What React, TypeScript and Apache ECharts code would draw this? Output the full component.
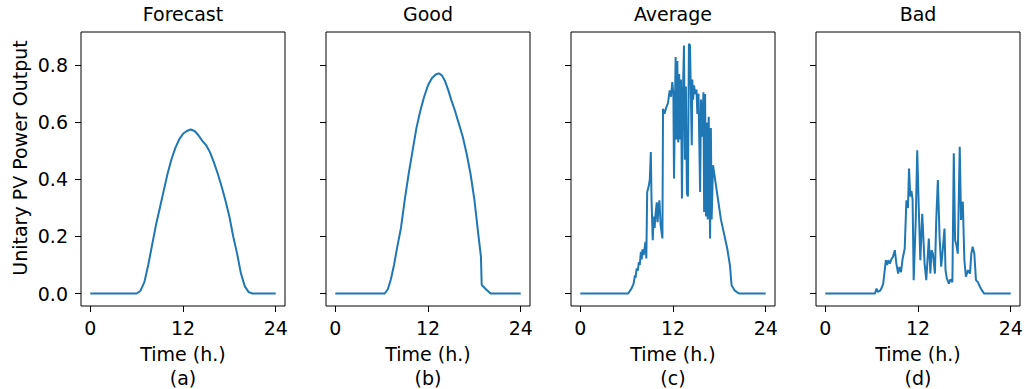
import React, { useEffect, useRef } from "react";
import * as echarts from "echarts";

const panelTitles = ["Forecast", "Good", "Average", "Bad"];
const panelLetters = ["(a)", "(b)", "(c)", "(d)"];
const xTicks = [0, 12, 24];
const yTicks = [0, 0.2, 0.4, 0.6, 0.8];
const yAxisTitle = "Unitary PV Power Output";
const xAxisTitle = "Time (h.)";

// [hour, unitary power]
const forecast: [number, number][] = [
  [0, 0], [6.0, 0], [6.5, 0.01], [7.0, 0.04], [7.5, 0.1], [8.0, 0.17], [8.5, 0.24],
  [9.0, 0.3], [9.5, 0.36], [10.0, 0.42], [10.5, 0.47], [11.0, 0.51], [11.5, 0.54],
  [12.0, 0.56], [12.5, 0.57], [13.0, 0.575], [13.5, 0.57], [14.0, 0.555], [14.5, 0.535],
  [15.0, 0.52], [15.5, 0.495], [16.0, 0.46], [16.5, 0.42], [17.0, 0.375], [17.5, 0.325],
  [18.0, 0.27], [18.5, 0.2], [19.0, 0.14], [19.5, 0.07], [20.0, 0.025], [20.5, 0.005],
  [21.0, 0], [24, 0],
];

const good: [number, number][] = [
  [0, 0], [6.4, 0], [6.8, 0.015], [7.2, 0.05], [7.6, 0.1], [8.0, 0.16], [8.5, 0.23],
  [9.0, 0.33], [9.5, 0.42], [10.0, 0.5], [10.5, 0.58], [11.0, 0.64], [11.5, 0.69],
  [12.0, 0.73], [12.5, 0.755], [13.0, 0.768], [13.4, 0.772], [13.8, 0.765], [14.2, 0.745],
  [14.6, 0.715], [15.0, 0.68], [15.5, 0.64], [16.0, 0.595], [16.5, 0.55], [17.0, 0.49],
  [17.5, 0.42], [18.0, 0.33], [18.5, 0.21], [18.85, 0.13], [18.95, 0.03], [19.5, 0.015],
  [20.1, 0], [24, 0],
];

const average: [number, number][] = [
  [0, 0], [6.2, 0], [6.64, 0.018], [6.9, 0.035], [7.07, 0.064], [7.15, 0.055], [7.3, 0.088],
  [7.45, 0.08], [7.58, 0.11], [7.7, 0.1], [7.84, 0.146], [7.95, 0.12], [8.05, 0.155],
  [8.2, 0.135], [8.44, 0.181], [8.55, 0.123], [8.66, 0.356], [8.85, 0.375], [9.0, 0.4],
  [9.13, 0.496], [9.22, 0.33], [9.38, 0.187], [9.5, 0.27], [9.62, 0.23], [9.75, 0.28],
  [9.9, 0.32], [10.0, 0.25], [10.12, 0.3], [10.24, 0.327], [10.4, 0.24], [10.63, 0.193],
  [10.71, 0.648], [10.9, 0.63], [11.1, 0.65], [11.35, 0.668], [11.57, 0.712], [11.75, 0.69],
  [11.91, 0.741], [12.05, 0.7], [12.13, 0.403], [12.34, 0.829], [12.45, 0.54], [12.56, 0.815],
  [12.68, 0.53], [12.8, 0.77], [12.9, 0.54], [13.03, 0.75], [13.16, 0.333], [13.3, 0.72],
  [13.42, 0.87], [13.54, 0.469], [13.67, 0.726], [13.8, 0.351], [13.93, 0.34], [14.06, 0.876],
  [14.2, 0.87], [14.43, 0.52], [14.5, 0.75], [14.6, 0.68], [14.72, 0.73], [14.87, 0.7],
  [15.04, 0.715], [15.15, 0.63], [15.3, 0.7], [15.51, 0.356], [15.62, 0.68], [15.75, 0.55],
  [15.94, 0.706], [16.03, 0.286], [16.15, 0.7], [16.28, 0.27], [16.37, 0.6], [16.5, 0.26],
  [16.62, 0.62], [16.8, 0.193], [16.9, 0.58], [17.0, 0.26], [17.18, 0.45], [18.2, 0.26],
  [19.02, 0.158], [19.37, 0.099], [19.58, 0.029], [20.0, 0.01], [20.53, 0], [24, 0],
];

const bad: [number, number][] = [
  [0, 0], [6.43, 0], [6.64, 0.017], [6.8, 0.006], [7.1, 0.01], [7.3, 0.02], [7.5, 0.035],
  [7.84, 0.117], [8.0, 0.1], [8.15, 0.117], [8.35, 0.105], [8.55, 0.12], [8.75, 0.128],
  [9.0, 0.152], [9.2, 0.105], [9.43, 0.07], [9.6, 0.093], [9.8, 0.075], [10.0, 0.12],
  [10.28, 0.158], [10.5, 0.327], [10.7, 0.3], [10.84, 0.438], [11.0, 0.34], [11.15, 0.36],
  [11.3, 0.33], [11.44, 0.047], [11.7, 0.25], [11.9, 0.502], [12.1, 0.3], [12.3, 0.117],
  [12.55, 0.28], [12.85, 0.105], [13.07, 0.047], [13.4, 0.193], [13.6, 0.07], [13.75, 0.152],
  [13.93, 0.14], [14.19, 0.07], [14.36, 0.258], [14.57, 0.398], [14.79, 0.2], [15.0, 0.094],
  [15.2, 0.152], [15.43, 0.228], [15.56, 0.082], [15.73, 0.053], [16.0, 0.035], [16.2, 0.05],
  [16.45, 0.04], [16.63, 0.492], [16.8, 0.187], [16.97, 0.17], [17.15, 0.14], [17.4, 0.515],
  [17.57, 0.258], [17.8, 0.322], [18.0, 0.117], [18.2, 0.059], [18.47, 0.082], [18.73, 0.07],
  [18.9, 0.14], [19.07, 0.164], [19.29, 0.14], [19.5, 0.047], [19.75, 0.04], [20.0, 0.025],
  [20.3, 0.01], [20.57, 0], [24, 0],
];

const seriesData = [forecast, good, average, bad];

const FONT = "DejaVu Sans";
const FS = 19;
const BLUE = "#1f77b4";

export default function App() {
  const ref = useRef<HTMLDivElement>(null);

  useEffect(() => {
    if (!ref.current) return;
    const chart = echarts.init(ref.current, undefined, { renderer: "svg" });
    const lefts = [81, 326, 571, 816];
    const top = 32;
    const width = 204;
    const height = 274;

    const grids = lefts.map((l) => ({
      left: l,
      top,
      width,
      height,
      containLabel: false,
      outerBoundsMode: "none",
      show: true,
      borderColor: "#000",
      borderWidth: 1,
      backgroundColor: "transparent",
    }));

    const xAxes = lefts.map((_, i) => ({
      type: "value",
      gridIndex: i,
      position: "bottom",
      min: -1.2,
      max: 25.2,
      name: `${xAxisTitle}\n${panelLetters[i]}`,
      nameLocation: "middle",
      nameGap: 35,
      nameTextStyle: { fontFamily: FONT, fontSize: FS, color: "#000", lineHeight: 24 },
      axisLine: { show: false, onZero: false },
      splitLine: { show: false },
      axisTick: {
        show: true,
        inside: false,
        length: 6,
        lineStyle: { color: "#000", width: 1 },
        customValues: xTicks,
      },
      axisLabel: {
        show: true,
        margin: 12.5,
        fontFamily: FONT,
        fontSize: FS,
        color: "#000",
        customValues: xTicks,
        formatter: (v: number) => String(v),
      },
    }));

    const yAxes = lefts.map((_, i) => ({
      type: "value",
      gridIndex: i,
      position: "left",
      min: -0.0437,
      max: 0.917,
      axisLine: { show: false, onZero: false },
      splitLine: { show: false },
      axisTick: {
        show: true,
        inside: false,
        length: 6,
        lineStyle: { color: "#000", width: 1 },
        customValues: yTicks,
      },
      axisLabel: {
        show: i === 0,
        margin: 13,
        fontFamily: FONT,
        fontSize: FS,
        color: "#000",
        customValues: yTicks,
        formatter: (v: number) => v.toFixed(1),
      },
    }));

    const series = seriesData.map((d, i) => ({
      type: "line",
      xAxisIndex: i,
      yAxisIndex: i,
      data: d,
      showSymbol: false,
      symbol: "none",
      lineStyle: { color: BLUE, width: 2 },
      itemStyle: { color: BLUE },
      clip: true,
    }));

    const titles: any[] = panelTitles.map((t, i) => ({
      type: "text",
      x: lefts[i] + width / 2,
      y: 14,
      style: {
        text: t,
        fontFamily: FONT,
        fontSize: FS,
        fill: "#000",
        textAlign: "center",
        textVerticalAlign: "middle",
        verticalAlign: "middle",
      },
    }));

    titles.push({
      type: "text",
      x: 20,
      y: 158,
      rotation: Math.PI / 2,
      style: {
        text: yAxisTitle,
        fontFamily: FONT,
        fontSize: FS,
        fill: "#000",
        textAlign: "center",
        textVerticalAlign: "middle",
        verticalAlign: "middle",
      },
    });

    chart.setOption({
      animation: false,
      backgroundColor: "#fff",
      grid: grids,
      xAxis: xAxes,
      yAxis: yAxes,
      series,
      graphic: titles,
    } as any);

    return () => chart.dispose();
  }, []);

  return (
    <div
      ref={ref}
      style={{ position: "fixed", left: 0, top: 0, width: 1026, height: 389 }}
    />
  );
}
